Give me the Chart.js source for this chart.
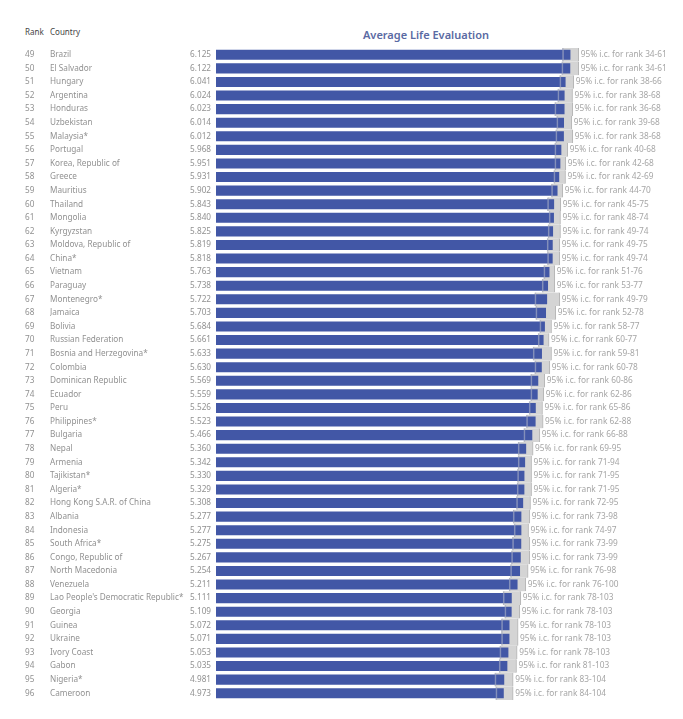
<!DOCTYPE html>
<html>
<head>
<meta charset="utf-8">
<script src="https://cdn.jsdelivr.net/npm/chart.js@4.4.0/dist/chart.umd.min.js"></script>
<style>
  html, body { margin: 0; padding: 0; background: #fff; }
  body { width: 683px; height: 719px; position: relative; overflow: hidden; font-family: "Noto Sans", sans-serif; }
  #wrap { position: absolute; left: 0; top: 0; width: 683px; height: 719px; }
  .hdr { position: absolute; font-size: 8px; color: #444; top: 26px; }
  #title { position: absolute; top: 27px; left: 216px; width: 420px; text-align: center; font-size: 11px; font-weight: 600; color: #5a6aa3; }
</style>
</head>
<body>
<div class="hdr" style="left:25px">Rank</div>
<div class="hdr" style="left:50px">Country</div>
<div id="title">Average Life Evaluation</div>
<div id="wrap"><canvas id="chart"></canvas></div>
<script>
// World happiness rows 49-96
const ranks = [49, 50, 51, 52, 53, 54, 55, 56, 57, 58, 59, 60, 61, 62, 63, 64,
  65, 66, 67, 68, 69, 70, 71, 72, 73, 74, 75, 76, 77, 78, 79, 80,
  81, 82, 83, 84, 85, 86, 87, 88, 89, 90, 91, 92, 93, 94, 95, 96];

const countries = ['Brazil', 'El Salvador', 'Hungary', 'Argentina', 'Honduras', 'Uzbekistan', 'Malaysia*', 'Portugal',
  'Korea, Republic of', 'Greece', 'Mauritius', 'Thailand', 'Mongolia', 'Kyrgyzstan', 'Moldova, Republic of', 'China*',
  'Vietnam', 'Paraguay', 'Montenegro*', 'Jamaica', 'Bolivia', 'Russian Federation', 'Bosnia and Herzegovina*', 'Colombia',
  'Dominican Republic', 'Ecuador', 'Peru', 'Philippines*', 'Bulgaria', 'Nepal', 'Armenia', 'Tajikistan*',
  'Algeria*', 'Hong Kong S.A.R. of China', 'Albania', 'Indonesia', 'South Africa*', 'Congo, Republic of', 'North Macedonia', 'Venezuela',
  "Lao People's Democratic Republic*", 'Georgia', 'Guinea', 'Ukraine', 'Ivory Coast', 'Gabon', 'Nigeria*', 'Cameroon'];

const scores = [6.125, 6.122, 6.041, 6.024, 6.023, 6.014, 6.012, 5.968,
  5.951, 5.931, 5.902, 5.843, 5.840, 5.825, 5.819, 5.818,
  5.763, 5.738, 5.722, 5.703, 5.684, 5.661, 5.633, 5.630,
  5.569, 5.559, 5.526, 5.523, 5.466, 5.360, 5.342, 5.330,
  5.329, 5.308, 5.277, 5.277, 5.275, 5.267, 5.254, 5.211,
  5.111, 5.109, 5.072, 5.071, 5.053, 5.035, 4.981, 4.973];

// confidence interval of the score
const lowerCI = [5.988, 5.976, 5.941, 5.907, 5.855, 5.889, 5.872, 5.855,
  5.855, 5.838, 5.798, 5.729, 5.756, 5.739, 5.722, 5.729,
  5.665, 5.636, 5.510, 5.527, 5.596, 5.567, 5.480, 5.510,
  5.440, 5.440, 5.411, 5.366, 5.320, 5.221, 5.221, 5.211,
  5.204, 5.193, 5.135, 5.152, 5.124, 5.107, 5.090, 5.066,
  4.962, 4.991, 4.934, 4.934, 4.905, 4.893, 4.819, 4.836];

const upperCI = [6.269, 6.269, 6.183, 6.161, 6.166, 6.149, 6.166, 6.079,
  6.045, 6.040, 5.993, 5.959, 5.953, 5.953, 5.941, 5.941,
  5.855, 5.855, 5.941, 5.872, 5.798, 5.756, 5.798, 5.769,
  5.682, 5.665, 5.642, 5.653, 5.596, 5.480, 5.453, 5.453,
  5.453, 5.435, 5.423, 5.401, 5.423, 5.423, 5.394, 5.354,
  5.268, 5.250, 5.221, 5.221, 5.204, 5.193, 5.135, 5.135];

// rank range of the 95% interval
const rankLow = [34, 34, 38, 38, 36, 39, 38, 40, 42, 42, 44, 45, 48, 49, 49, 49,
  51, 53, 49, 52, 58, 60, 59, 60, 60, 62, 65, 62, 66, 69, 71, 71,
  71, 72, 73, 74, 73, 73, 76, 76, 78, 78, 78, 78, 78, 81, 83, 84];
const rankHigh = [61, 61, 66, 68, 68, 68, 68, 68, 68, 69, 70, 75, 74, 74, 75, 74,
  76, 77, 79, 78, 77, 77, 81, 78, 86, 86, 86, 88, 88, 95, 94, 95,
  95, 95, 98, 97, 99, 99, 98, 100, 103, 103, 103, 103, 103, 103, 104, 104];

const FONT = '"Noto Sans", sans-serif';
const TEXT_GREY = '#919191';

const ciLabels = {
  id: 'ciLabels',
  afterDatasetsDraw(chart) {
    const ctx = chart.ctx;
    const xs = chart.scales.x;
    const ys = chart.scales.y;
    ctx.save();
    ctx.font = '8.3px ' + FONT;
    ctx.fillStyle = '#a6a6a6';
    ctx.textAlign = 'left';
    ctx.textBaseline = 'middle';
    upperCI.forEach((hi, i) => {
      const txt = '95% i.c. for rank ' + rankLow[i] + '-' + rankHigh[i];
      ctx.fillText(txt, xs.getPixelForValue(hi) + 2, ys.getPixelForValue(i));
    });
    ctx.restore();
  }
};

const ranges = lowerCI.map((lo, i) => [lo, upperCI[i]]);

const sideAxis = (labels, weight, width, align, pad) => ({
  type: 'category',
  position: 'left',
  labels: labels,
  offset: true,
  weight: weight,
  grid: { display: false, drawTicks: false },
  border: { display: false },
  ticks: {
    autoSkip: false,
    crossAlign: align,
    padding: pad,
    color: TEXT_GREY,
    font: { family: FONT, size: 8.2 }
  },
  afterFit: (s) => { s.width = width; }
});

new Chart(document.getElementById('chart'), {
  type: 'bar',
  data: {
    labels: countries,
    datasets: [
      {
        // lower edge line drawn over the bars
        data: ranges,
        backgroundColor: 'rgba(0,0,0,0)',
        borderColor: 'rgba(175,180,200,0.6)',
        borderWidth: { left: 1, right: 0, top: 0, bottom: 0 },
        borderSkipped: false,
        barPercentage: 1,
        categoryPercentage: 1,
        grouped: false,
        order: 0
      },
      {
        data: scores,
        backgroundColor: '#4257a6',
        barPercentage: 0.74,
        categoryPercentage: 1,
        grouped: false,
        order: 1
      },
      {
        // confidence band behind the bars
        data: ranges,
        backgroundColor: '#d4d4d4',
        borderColor: '#b4b4b4',
        borderWidth: { left: 1, right: 1, top: 0, bottom: 0 },
        borderSkipped: false,
        barPercentage: 1,
        categoryPercentage: 1,
        grouped: false,
        order: 2
      }
    ]
  },
  options: {
    indexAxis: 'y',
    responsive: true,
    maintainAspectRatio: false,
    animation: false,
    layout: { padding: { left: 25, right: 33, top: 48, bottom: 19 } },
    plugins: {
      legend: { display: false },
      tooltip: { enabled: false }
    },
    scales: {
      x: {
        display: false,
        min: 0,
        max: 7.5
      },
      y: {
        type: 'category',
        position: 'left',
        offset: true,
        weight: 1,
        grid: { display: false, drawTicks: false },
        border: { display: false },
        ticks: {
          autoSkip: false,
          crossAlign: 'near',
          padding: 5,
          color: TEXT_GREY,
          font: { family: FONT, size: 8.2 },
          callback: (v, i) => scores[i].toFixed(3)
        },
        afterFit: (s) => { s.width = 29; }
      },
      yCountry: sideAxis(countries, 2, 137, 'far', 0),
      yRank: sideAxis(ranks.map(String), 3, 25, 'far', 0)
    }
  },
  plugins: [ciLabels]
});
</script>
</body>
</html>
